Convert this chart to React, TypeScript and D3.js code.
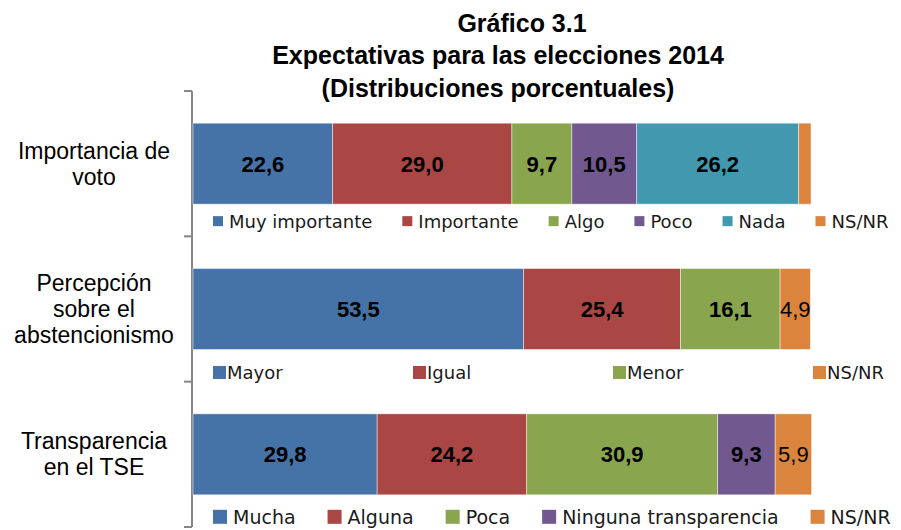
import { useEffect, useRef } from 'react';
import * as d3 from 'd3';

// chart data
const titleLines = ['Gráfico 3.1', 'Expectativas para las elecciones 2014', '(Distribuciones porcentuales)'];
const categories = [['Importancia de', 'voto'], ['Percepción', 'sobre el', 'abstencionismo'], ['Transparencia', 'en el TSE']];

const seriesVoto = ['Muy importante', 'Importante', 'Algo', 'Poco', 'Nada', 'NS/NR'];
const valuesVoto = [22.6, 29.0, 9.7, 10.5, 26.2, 2.0];

const seriesAbst = ['Mayor', 'Igual', 'Menor', 'NS/NR'];
const valuesAbst = [53.5, 25.4, 16.1, 4.9];

const seriesTSE = ['Mucha', 'Alguna', 'Poca', 'Ninguna transparencia', 'NS/NR'];
const valuesTSE = [29.8, 24.2, 30.9, 9.3, 5.9];

const BLUE = '#4572a7';
const RED = '#aa4644';
const GREEN = '#89a54e';
const PURPLE = '#71588f';
const TEAL = '#4198af';
const ORANGE = '#db843d';

const colorsVoto = [BLUE, RED, GREEN, PURPLE, TEAL, ORANGE];
const colorsAbst = [BLUE, RED, GREEN, ORANGE];
const colorsTSE = [BLUE, RED, GREEN, PURPLE, ORANGE];

// legend look per row (the original legends are laid out a bit differently each)
const legendStyles = [
    { size: 18, key: 10, keyGap: 6, gap: 30, column: 0, dy: 17 },
    { size: 18, key: 13, keyGap: 1, gap: 0, column: 200, dy: 23 },
    { size: 19, key: 14, keyGap: 6, gap: 32, column: 0, dy: 22 },
];

const ARIAL = '"Liberation Sans", Arial, sans-serif';
const LEGEND_FONT = '"DejaVu Sans", Verdana, sans-serif';

export default function App() {
    const ref = useRef<HTMLDivElement>(null);

    useEffect(() => {
        const width = 901;
        const height = 530;
        const groups = [
            { names: seriesVoto, values: valuesVoto, colors: colorsVoto },
            { names: seriesAbst, values: valuesAbst, colors: colorsAbst },
            { names: seriesTSE, values: valuesTSE, colors: colorsTSE },
        ];

        const container = d3.select(ref.current);
        container.selectAll('*').remove();

        const svg = container
            .append('svg')
            .attr('width', width)
            .attr('height', height)
            .style('display', 'block')
            .style('background', '#fff');

        const x = d3.scaleLinear().domain([0, 100]).range([193, 811]);
        const y = d3.scaleBand<number>()
            .domain(d3.range(categories.length))
            .range([91, 527])
            .paddingInner(0.443)
            .paddingOuter(0.2215);
        const bw = y.bandwidth();

        // title
        svg.append('g')
            .selectAll('text')
            .data(titleLines)
            .join('text')
            .attr('x', (_, i) => (i === 0 ? 522 : 498))
            .attr('y', (_, i) => 31.5 + i * 32.5)
            .attr('text-anchor', 'middle')
            .attr('font-family', ARIAL)
            .attr('font-weight', 'bold')
            .attr('font-size', 25)
            .attr('fill', '#000')
            .text(d => d);

        // category axis with ticks between the groups
        const [r0, r1] = y.range();
        const axis = svg.append('g').attr('stroke', '#868686').attr('stroke-width', 2);
        axis.append('line')
            .attr('x1', 192).attr('x2', 192)
            .attr('y1', r0).attr('y2', r1);
        axis.selectAll('line.tick')
            .data(d3.range(categories.length + 1))
            .join('line')
            .attr('class', 'tick')
            .attr('x1', 184).attr('x2', 192)
            .attr('y1', i => r0 + i * y.step())
            .attr('y2', i => r0 + i * y.step());

        // category labels
        categories.forEach((lines, i) => {
            const cy = y(i)! + bw / 2;
            svg.append('text')
                .attr('text-anchor', 'middle')
                .attr('font-family', ARIAL)
                .attr('font-size', 23)
                .attr('fill', '#000')
                .selectAll('tspan')
                .data(lines)
                .join('tspan')
                .attr('x', 94)
                .attr('y', (_, j) => cy + (j - (lines.length - 1) / 2) * 26 + 8)
                .text(d => d);
        });

        groups.forEach((g, i) => {
            const ends = Array.from(d3.cumsum(g.values));
            const segs = g.values.map((v, j) => ({
                name: g.names[j],
                value: v,
                start: ends[j] - v,
                end: ends[j],
                color: g.colors[j],
            }));
            const row = svg.append('g');

            row.selectAll('rect')
                .data(segs)
                .join('rect')
                .attr('x', d => x(d.start))
                .attr('y', y(i)!)
                .attr('width', d => x(d.end) - x(d.start))
                .attr('height', bw)
                .attr('fill', d => d.color)
                .attr('stroke', 'rgba(255,255,255,0.55)')
                .attr('stroke-width', 0.8);

            row.selectAll('text')
                .data(segs.filter(d => d.value >= 3))
                .join('text')
                .attr('x', d => (x(d.start) + x(d.end)) / 2)
                .attr('y', y(i)! + bw / 2 + 8)
                .attr('text-anchor', 'middle')
                .attr('font-family', ARIAL)
                .attr('font-size', 22)
                .attr('font-weight', d => (d.name === 'NS/NR' ? 'normal' : 'bold'))
                .attr('fill', '#000')
                .text(d => d.value.toFixed(1).replace('.', ','));

            // legend under each bar
            const ls = legendStyles[i];
            const ly = y(i)! + bw + ls.dy;
            const legend = svg.append('g');
            let cx = 213;
            segs.forEach((d, j) => {
                const itemX = ls.column ? 213 + j * ls.column : cx;
                legend.append('rect')
                    .attr('x', itemX)
                    .attr('y', ly - ls.key / 2)
                    .attr('width', ls.key)
                    .attr('height', ls.key)
                    .attr('fill', d.color);
                const t = legend.append('text')
                    .attr('x', itemX + ls.key + ls.keyGap)
                    .attr('y', ly + ls.size * 0.36)
                    .attr('font-family', LEGEND_FONT)
                    .attr('font-size', ls.size)
                    .attr('fill', '#1a1a1a')
                    .text(d.name);
                const tw = (t.node() as SVGTextElement).getComputedTextLength();
                cx = itemX + ls.key + ls.keyGap + tw + ls.gap;
            });
        });
    }, []);

    return <div ref={ref} style={{ position: 'absolute', left: 0, top: 0 }} />;
}
